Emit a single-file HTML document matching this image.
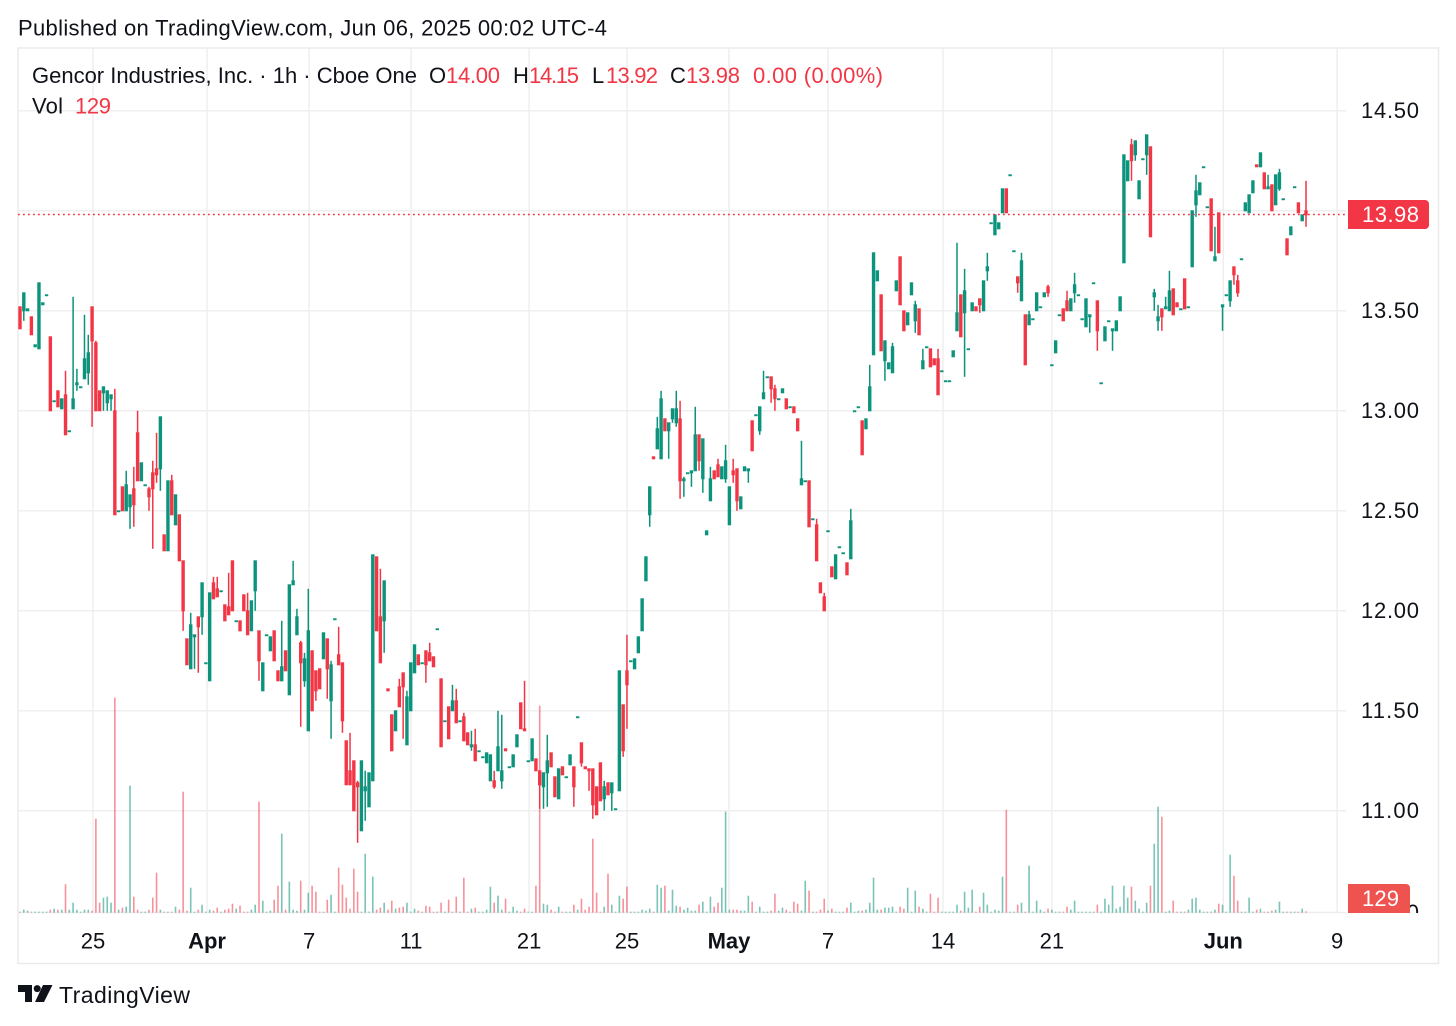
<!DOCTYPE html>
<html lang="en">
<head>
<meta charset="utf-8">
<title>Gencor Industries 1h chart</title>
<style>
html,body{margin:0;padding:0;background:#fff;width:1456px;height:1026px;overflow:hidden}
svg{display:block}
text{font-family:"Liberation Sans",sans-serif;font-size:22px;fill:#0f1218}
.red{fill:#f23645}
</style>
</head>
<body>
<svg id="chart" xmlns="http://www.w3.org/2000/svg" width="1456" height="1026" viewBox="0 0 1456 1026">
  <defs><clipPath id="axisClip"><rect x="1340" y="880" width="100" height="33"></rect></clipPath></defs>
  <rect x="0" y="0" width="1456" height="1026" fill="#ffffff"></rect>
  <text x="18" y="35.5" textLength="589" lengthAdjust="spacing">Published on TradingView.com, Jun 06, 2025 00:02 UTC-4</text>
  <rect x="18" y="48" width="1420.5" height="915.5" fill="none" stroke="#e9e9e9" stroke-width="1.4"></rect>
  <g id="grid"></g>
  <g id="volumeLayer"></g>
  <g id="candleLayer"></g>
  <g id="priceLine"></g>
  <g id="yLabels"></g>
  <g id="xLabels"></g>

  <text x="1419" y="920" text-anchor="end" clip-path="url(#axisClip)">0</text>
  <path d="M1348 884H1406a4 4 0 0 1 4 4V913H1348Z" fill="#ef5350"></path>
  <text x="1362" y="906" textLength="37" lengthAdjust="spacing" style="fill:#fff">129</text>
  <path d="M1348 200H1425a4 4 0 0 1 4 4V225a4 4 0 0 1-4 4H1348Z" fill="#f23645"></path>
  <text x="1362" y="222" textLength="57" lengthAdjust="spacing" style="fill:#fff">13.98</text>

  <g>
    <text x="32" y="83" textLength="385" lengthAdjust="spacing">Gencor Industries, Inc. · 1h · Cboe One</text>
    <text x="429" y="83">O</text>
    <text class="red" x="446" y="83" textLength="54" lengthAdjust="spacing">14.00</text>
    <text x="513" y="83">H</text>
    <text class="red" x="529" y="83" textLength="50" lengthAdjust="spacing">14.15</text>
    <text x="592" y="83">L</text>
    <text class="red" x="606" y="83" textLength="52" lengthAdjust="spacing">13.92</text>
    <text x="670" y="83">C</text>
    <text class="red" x="686" y="83" textLength="54" lengthAdjust="spacing">13.98</text>
    <text class="red" x="753" y="83" textLength="130" lengthAdjust="spacing">0.00 (0.00%)</text>
    <text x="32" y="113.5" textLength="31" lengthAdjust="spacing">Vol</text>
    <text class="red" x="75" y="113.5" textLength="36" lengthAdjust="spacing">129</text>
  </g>

  <g>
    <path fill="#0f1218" d="M18 985H32V1002H25V992H18Z M43 985H52.5L44 1002H35Z"></path>
    <circle cx="37.2" cy="988.6" r="3.5" fill="#0f1218"></circle>
    <text x="59" y="1003" style="font-size:23px" textLength="131" lengthAdjust="spacing">TradingView</text>
  </g>
</svg>

<script>
const priceTicks = ['14.50','14.00','13.50','13.00','12.50','12.00','11.50','11.00'];
const yAxisLabels = ['14.50','13.50','13.00','12.50','12.00','11.50','11.00'];
const timeLabels = ['25','Apr','7','11','21','25','May','7','14','21','Jun','9'];
const timeLabelBold = [false,true,false,false,false,false,true,false,false,false,true,false];
const timeTickBars = [19.25,49.3,76.2,103.1,134.2,160,186.9,213,243.3,272,317.2,347.2];

const opens = [
13.52,13.50,13.50,13.47,13.32,13.31,13.53,13.58,13.37,13.05,
13.10,13.01,13.08,12.90,13.01,13.13,13.12,13.16,13.19,13.52,
13.34,13.10,13.09,13.04,13.06,13.00,12.50,12.62,12.50,12.52,
12.61,12.89,12.65,12.63,12.61,12.69,12.71,12.71,12.38,12.30,
12.65,12.43,12.48,12.25,11.86,11.71,11.87,11.97,11.97,11.74,
11.65,12.14,12.11,12.10,12.03,12.02,12.25,11.95,11.95,12.08,
12.00,11.90,12.10,11.90,11.60,11.88,11.80,11.90,11.70,11.65,
11.80,11.58,12.13,11.88,11.84,11.65,11.40,11.80,11.70,11.71,
11.76,11.86,11.55,11.96,11.78,11.74,11.35,11.20,11.25,11.14,
10.90,11.10,11.02,11.15,12.27,11.97,11.95,11.61,11.48,11.40,
11.62,11.69,11.33,11.50,11.69,11.78,11.74,11.80,11.79,11.77,
11.91,11.66,11.45,11.52,11.50,11.55,11.45,11.47,11.39,11.32,
11.33,11.30,11.27,11.24,11.15,11.15,11.20,11.15,11.31,11.22,
11.22,11.32,11.54,11.41,11.25,11.25,11.26,11.20,11.12,11.19,
11.29,11.17,11.06,11.22,11.17,11.23,11.22,11.47,11.34,11.22,
11.21,11.21,11.12,11.24,11.06,11.14,11.09,11.01,11.10,11.53,
11.70,11.75,11.71,11.79,11.90,12.15,12.48,12.77,12.81,12.76,
12.96,12.90,12.96,12.94,12.96,12.65,12.69,12.69,12.70,12.88,
12.66,12.38,12.55,12.70,12.73,12.66,12.66,12.43,12.70,12.71,
12.51,12.70,12.70,12.95,12.98,12.90,13.06,13.17,13.17,13.11,
13.06,13.09,13.06,13.02,13.02,12.96,12.63,12.65,12.65,12.46,
12.43,12.14,12.07,12.40,12.22,12.16,12.32,12.29,12.24,12.26,
13.00,13.02,12.95,12.91,13.00,13.28,13.65,13.58,13.25,13.21,
13.19,13.60,13.77,13.50,13.43,13.58,13.45,13.51,13.21,13.32,
13.31,13.26,13.26,13.20,13.15,13.15,13.27,13.40,13.58,13.49,
13.31,13.50,13.52,13.56,13.50,13.70,13.94,13.88,13.91,13.99,
14.11,14.18,13.80,13.67,13.55,13.48,13.43,13.46,13.50,13.52,
13.57,13.62,13.23,13.29,13.48,13.51,13.55,13.50,13.59,13.58,
13.46,13.42,13.47,13.64,13.55,13.14,13.35,13.45,13.40,13.40,
13.50,13.74,14.15,14.33,14.28,14.06,14.26,14.28,14.32,13.57,
13.45,13.51,13.51,13.50,13.61,13.54,13.51,13.66,13.52,13.72,
14.03,14.08,14.22,14.02,14.06,13.75,13.99,13.52,13.58,13.55,
13.72,13.65,13.76,14.00,13.99,14.09,14.23,14.22,14.19,14.11,
14.13,14.03,14.11,14.06,13.86,13.88,14.12,14.04,13.95,14.00
];
const highs = [
13.52,13.59,13.51,13.47,13.33,13.64,13.54,13.58,13.37,13.05,
13.10,13.06,13.20,12.90,13.57,13.21,13.12,13.48,13.38,13.52,
13.35,13.10,13.12,13.10,13.08,13.11,12.50,12.62,12.70,12.58,
12.72,13.00,12.74,12.63,12.62,12.75,12.89,12.97,12.38,12.65,
12.68,12.58,12.48,12.25,11.86,11.99,11.88,11.97,12.14,11.74,
12.09,12.17,12.17,12.10,12.03,12.19,12.25,11.95,11.95,12.08,
12.09,12.05,12.25,11.90,11.74,11.88,11.87,11.90,11.70,11.95,
11.80,12.13,12.25,12.01,11.85,11.79,12.11,11.80,11.70,11.71,
11.89,11.86,11.75,11.96,11.92,11.74,11.35,11.39,11.25,11.15,
11.25,11.20,11.19,12.28,12.27,12.21,12.15,11.61,11.48,11.50,
11.66,11.69,11.60,11.74,11.83,11.78,11.74,11.80,11.84,11.77,
11.91,11.66,11.45,11.52,11.63,11.61,11.45,11.49,11.39,11.40,
11.41,11.30,11.27,11.29,11.28,11.20,11.50,11.48,11.31,11.22,
11.28,11.38,11.54,11.65,11.25,11.36,11.26,11.20,11.19,11.38,
11.29,11.17,11.21,11.22,11.17,11.28,11.22,11.47,11.34,11.22,
11.21,11.21,11.12,11.24,11.15,11.14,11.14,11.01,11.70,11.53,
11.88,11.75,11.76,11.87,12.06,12.27,12.62,12.77,12.97,13.10,
12.96,12.94,13.01,13.10,13.05,12.67,12.69,12.70,13.02,12.88,
12.86,12.40,12.72,12.70,12.76,12.72,12.83,12.62,12.76,12.71,
12.57,12.72,12.71,12.95,12.98,13.02,13.20,13.17,13.17,13.13,
13.06,13.11,13.06,13.02,13.02,12.96,12.85,12.65,12.65,12.46,
12.46,12.14,12.09,12.40,12.22,12.28,12.32,12.29,12.24,12.51,
13.00,13.02,12.95,12.96,13.23,13.79,13.70,13.58,13.35,13.24,
13.34,13.65,13.77,13.50,13.49,13.64,13.55,13.51,13.31,13.32,
13.31,13.26,13.31,13.20,13.15,13.15,13.30,13.84,13.58,13.71,
13.31,13.54,13.52,13.56,13.65,13.79,13.94,13.98,13.94,14.11,
14.11,14.18,13.80,13.67,13.79,13.48,13.50,13.46,13.59,13.52,
13.59,13.63,13.23,13.35,13.48,13.51,13.60,13.56,13.69,13.58,
13.46,13.56,13.48,13.64,13.55,13.14,13.42,13.45,13.41,13.45,
13.57,14.28,14.25,14.36,14.35,14.15,14.26,14.38,14.32,13.61,
13.53,13.51,13.57,13.70,13.61,13.54,13.51,13.66,13.52,14.00,
14.18,14.14,14.22,14.02,14.06,13.92,13.99,13.53,13.58,13.65,
13.72,13.68,13.76,14.04,14.08,14.15,14.23,14.29,14.19,14.18,
14.13,14.18,14.21,14.06,13.86,13.92,14.12,14.04,13.98,14.15
];
const lows = [
13.41,13.45,13.50,13.38,13.32,13.31,13.53,13.58,13.00,13.05,
13.02,13.01,12.88,12.90,13.01,13.10,13.12,13.16,13.13,12.92,
13.00,13.00,13.00,13.00,13.00,12.48,12.50,12.50,12.50,12.41,
12.42,12.65,12.65,12.63,12.50,12.31,12.64,12.60,12.30,12.30,
12.48,12.43,12.25,11.90,11.73,11.71,11.71,11.69,11.88,11.74,
11.65,12.06,12.07,12.10,11.95,11.98,12.00,11.95,11.90,12.00,
11.88,11.90,12.00,11.65,11.60,11.88,11.80,11.75,11.65,11.65,
11.70,11.58,12.13,11.88,11.42,11.62,11.40,11.50,11.55,11.61,
11.76,11.56,11.36,11.96,11.73,11.39,11.13,11.13,11.00,10.84,
10.90,10.95,11.02,11.15,11.90,11.74,11.79,11.60,11.30,11.40,
11.52,11.36,11.33,11.50,11.69,11.73,11.74,11.64,11.75,11.72,
11.91,11.32,11.45,11.36,11.50,11.44,11.45,11.35,11.33,11.30,
11.25,11.30,11.27,11.24,11.15,11.11,11.20,11.11,11.30,11.22,
11.22,11.32,11.41,11.40,11.25,11.25,11.20,11.01,11.01,11.02,
11.22,11.07,11.06,11.18,11.17,11.23,11.02,11.47,11.22,11.21,
11.10,10.96,10.98,11.05,11.00,11.08,11.00,11.01,11.10,11.27,
11.41,11.75,11.71,11.79,11.90,12.15,12.42,12.76,12.81,12.76,
12.90,12.76,12.94,12.92,12.56,12.57,12.69,12.62,12.70,12.70,
12.59,12.38,12.55,12.66,12.67,12.66,12.64,12.43,12.64,12.50,
12.51,12.70,12.64,12.80,12.98,12.88,13.06,13.17,13.04,13.00,
13.06,13.09,13.01,13.02,12.99,12.90,12.63,12.65,12.42,12.46,
12.25,12.09,12.00,12.40,12.17,12.16,12.32,12.29,12.18,12.26,
13.00,13.02,12.78,12.91,13.00,13.28,13.65,13.30,13.15,13.21,
13.19,13.60,13.53,13.40,13.43,13.58,13.39,13.38,13.21,13.32,
13.22,13.23,13.08,13.20,13.15,13.15,13.27,13.40,13.37,13.17,
13.31,13.50,13.50,13.49,13.50,13.65,13.94,13.88,13.91,13.99,
13.99,14.18,13.80,13.59,13.55,13.23,13.43,13.46,13.50,13.52,
13.57,13.57,13.23,13.29,13.48,13.45,13.50,13.50,13.54,13.58,
13.46,13.42,13.39,13.64,13.30,13.14,13.35,13.45,13.30,13.40,
13.50,13.74,14.15,14.15,14.25,14.06,14.26,14.18,13.87,13.50,
13.40,13.40,13.51,13.50,13.48,13.52,13.51,13.51,13.52,13.72,
13.97,14.08,14.22,14.02,13.80,13.75,13.79,13.40,13.58,13.52,
13.63,13.57,13.76,14.00,13.99,14.09,14.22,14.22,14.11,14.11,
14.00,14.03,14.10,14.06,13.78,13.88,14.12,13.99,13.95,13.92
];
const closes = [
13.41,13.59,13.51,13.38,13.33,13.64,13.54,13.58,13.00,13.05,
13.02,13.06,12.88,12.90,13.06,13.14,13.12,13.26,13.29,13.35,
13.00,13.00,13.12,13.10,13.08,12.48,12.50,12.50,12.63,12.58,
12.53,12.65,12.74,12.63,12.57,12.61,12.68,12.97,12.30,12.65,
12.48,12.58,12.25,12.00,11.73,11.93,11.88,11.92,12.14,11.74,
12.09,12.06,12.07,12.10,11.95,11.98,12.00,11.95,11.90,12.00,
11.88,12.05,12.25,11.75,11.74,11.88,11.87,11.75,11.65,11.72,
11.70,12.13,12.15,11.97,11.74,11.76,11.90,11.50,11.60,11.61,
11.89,11.71,11.73,11.96,11.73,11.45,11.13,11.13,11.00,11.12,
11.25,11.12,11.19,12.28,11.90,11.74,12.15,11.60,11.30,11.50,
11.52,11.62,11.57,11.74,11.83,11.73,11.74,11.73,11.75,11.72,
11.91,11.32,11.45,11.36,11.55,11.44,11.45,11.35,11.33,11.33,
11.25,11.30,11.27,11.29,11.28,11.12,11.32,11.20,11.30,11.22,
11.28,11.38,11.41,11.40,11.25,11.36,11.20,11.13,11.19,11.25,
11.22,11.07,11.21,11.18,11.17,11.28,11.12,11.47,11.24,11.21,
11.20,11.03,10.98,11.05,11.12,11.08,11.14,11.01,11.70,11.30,
11.63,11.75,11.76,11.87,12.06,12.27,12.62,12.76,12.91,13.06,
12.90,12.94,13.01,13.01,12.65,12.66,12.69,12.70,12.88,12.75,
12.86,12.40,12.66,12.66,12.67,12.72,12.75,12.62,12.68,12.55,
12.57,12.72,12.71,12.80,12.98,13.02,13.09,13.17,13.11,13.06,
13.06,13.11,13.01,13.02,12.99,12.90,12.66,12.65,12.42,12.46,
12.25,12.09,12.00,12.40,12.17,12.28,12.32,12.29,12.18,12.45,
13.00,13.02,12.78,12.96,13.12,13.79,13.70,13.30,13.35,13.24,
13.32,13.65,13.53,13.40,13.49,13.64,13.53,13.38,13.25,13.32,
13.22,13.23,13.08,13.20,13.15,13.15,13.30,13.49,13.37,13.60,
13.31,13.54,13.50,13.53,13.65,13.72,13.94,13.98,13.94,14.11,
13.99,14.18,13.80,13.64,13.75,13.23,13.48,13.46,13.59,13.52,
13.59,13.59,13.23,13.35,13.48,13.45,13.50,13.56,13.63,13.58,
13.46,13.56,13.48,13.64,13.40,13.14,13.42,13.45,13.41,13.45,
13.57,14.28,14.25,14.25,14.35,14.15,14.26,14.38,13.87,13.59,
13.47,13.47,13.52,13.60,13.48,13.52,13.51,13.51,13.52,14.00,
14.10,14.14,14.22,14.02,13.80,13.77,13.79,13.53,13.58,13.65,
13.68,13.59,13.76,14.04,14.08,14.15,14.22,14.29,14.11,14.12,
14.00,14.18,14.19,14.06,13.78,13.92,14.12,13.99,13.98,13.98
];
const volumes = [
100,300,200,100,100,100,100,100,300,400,
300,300,2850,300,1000,300,100,300,300,200,
9400,1000,1500,1600,1000,21500,300,500,600,12700,
1600,300,100,100,300,1500,4000,300,100,100,
100,600,300,12100,200,2500,100,300,800,100,
300,200,500,100,300,400,900,400,700,100,
100,300,800,11100,1200,100,200,1300,2700,7900,
300,3100,300,200,3200,300,2000,2700,2100,100,
100,1300,1800,100,4500,2800,1500,400,4400,2100,
100,5900,100,3600,300,500,1000,300,1200,400,
500,600,1000,100,400,200,100,700,600,100,
100,1000,100,1300,100,1600,100,3500,100,400,
500,100,100,300,2600,1000,1700,300,1400,100,
600,200,100,400,100,100,2700,20700,900,800,
300,100,600,100,100,100,800,300,1400,300,
600,7400,2000,100,600,3900,800,100,1700,1400,
2600,100,100,100,300,200,400,100,2800,2500,
2700,200,2300,700,600,300,500,200,200,800,
1100,100,1600,600,1000,2500,10100,300,300,300,
200,200,1700,1100,100,600,100,100,200,1900,
200,500,300,100,1100,900,200,3200,2200,100,
100,300,1400,200,400,100,100,100,500,1000,
100,200,200,300,1000,3500,300,300,500,500,
600,100,600,400,2500,100,2200,600,400,100,
1900,100,1500,100,100,100,100,800,200,2100,
500,2300,100,600,2000,800,100,300,200,3600,
10300,100,100,800,1000,100,4700,100,1200,300,
100,400,300,100,100,100,600,300,1200,100,
100,100,100,100,800,100,1400,800,2700,400,
600,2700,1500,2600,1200,400,100,1000,2700,6900,
10600,9600,100,200,1200,100,100,100,300,1400,
1500,300,100,100,100,300,900,800,100,5800,
3700,1200,100,100,1500,100,300,400,100,100,
200,300,1100,100,100,100,100,100,400,129
];

const SVG_NS = 'http://www.w3.org/2000/svg';
const UP = '#0b937c';
const DOWN = '#f23645';
const GRID = '#ededed';
const xScale = function (i) { return 20 + i * (1286 / 339); };
const yScale = function (p) { return 110.8 + (14.5 - p) * 200; };
const volScale = function (v) { return 912.7 - v / 100; };

function make(tag, parent, attrs) {
  const el = document.createElementNS(SVG_NS, tag);
  Object.keys(attrs).forEach(function (k) { el.setAttribute(k, attrs[k]); });
  parent.appendChild(el);
  return el;
}

const grid = document.getElementById('grid');
priceTicks.forEach(function (t) {
  const y = yScale(parseFloat(t));
  const line = make('line', grid, { x1: 18, x2: 1346, y1: y, y2: y, stroke: GRID, 'stroke-width': 1.4 });
  
  
});
timeTickBars.forEach(function (b) {
  const x = xScale(b);
  const line = make('line', grid, { x1: x, x2: x, y1: 48, y2: 912.7, stroke: GRID, 'stroke-width': 1.4 });
  
  
});
const baseLine = make('line', grid, { x1: 18, x2: 1346, y1: 912.5, y2: 912.5, stroke: GRID, 'stroke-width': 1.4 });



const volumeLayer = document.getElementById('volumeLayer');
volumes.forEach(function (v, i) {
  const up = closes[i] >= opens[i];
  const top = Math.min(volScale(v), 911.7);
  const bar = make('rect', volumeLayer, { x: xScale(i) - 0.8, y: top, width: 1.6, height: 912.7 - top, fill: up ? UP : DOWN, 'fill-opacity': 0.55 });
  
  
});

const candleLayer = document.getElementById('candleLayer');
opens.forEach(function (o, i) {
  const c = closes[i];
  const color = c >= o ? UP : DOWN;
  const x = xScale(i);
  const group = make('g', candleLayer, {});
  
  
  const hi = yScale(highs[i]);
  const lo = yScale(lows[i]);
  const wick = make('rect', group, { x: x - 0.75, y: hi, width: 1.5, height: Math.max(lo - hi, 0.5), fill: color });
  
  
  const top = yScale(Math.max(o, c));
  const bottom = yScale(Math.min(o, c));
  const body = make('rect', group, { x: x - 1.7, y: top - 0.5, width: 3.4, height: Math.max(bottom - top, 0.9) + 1, fill: color });
  
  
});

const priceLine = document.getElementById('priceLine');
const lastY = yScale(closes[closes.length - 1]) - 0.3;
const lastLine = make('line', priceLine, { x1: 18, x2: 1346, y1: lastY, y2: lastY, stroke: '#f23645', 'stroke-width': 1.6, 'stroke-dasharray': '1.8 3.2' });



const yLabels = document.getElementById('yLabels');
yAxisLabels.forEach(function (t) {
  const label = make('text', yLabels, { x: 1361, y: yScale(parseFloat(t)) + 7, textLength: 58, lengthAdjust: 'spacing' });
  label.textContent = t;
  
  
});

const xLabels = document.getElementById('xLabels');
timeLabels.forEach(function (t, i) {
  const label = make('text', xLabels, { x: xScale(timeTickBars[i]), y: 948.5, 'text-anchor': 'middle' });
  label.style.fontWeight = timeLabelBold[i] ? 'bold' : 'normal';
  label.textContent = t;
  
  
});
</script>
</body>
</html>
